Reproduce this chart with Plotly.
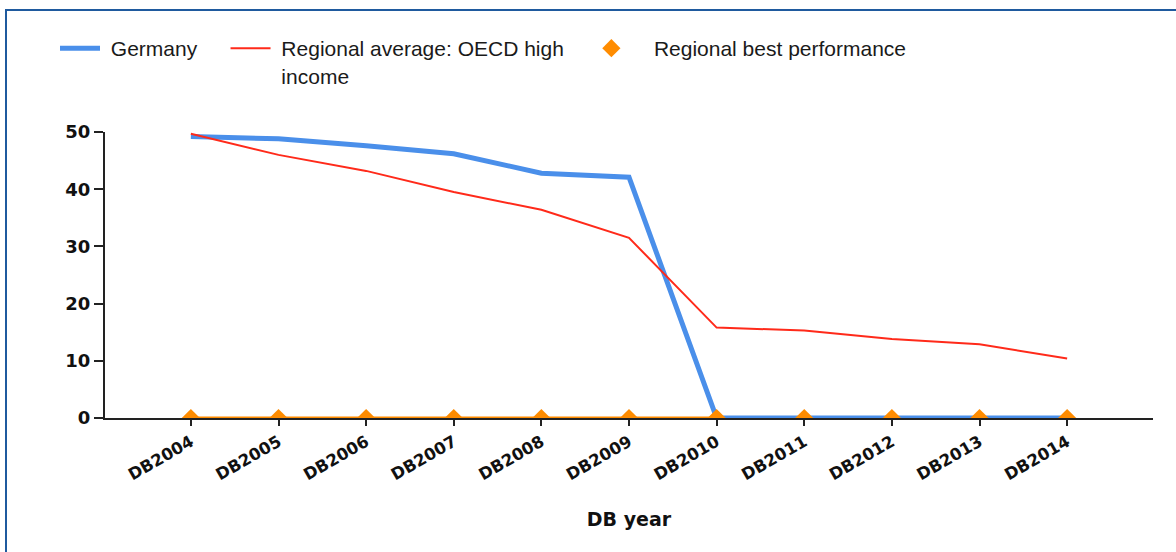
import plotly.graph_objects as go

years = ["DB2004", "DB2005", "DB2006", "DB2007", "DB2008", "DB2009",
         "DB2010", "DB2011", "DB2012", "DB2013", "DB2014"]
germany = [49.2, 48.8, 47.6, 46.2, 42.8, 42.1, 0, 0, 0, 0, 0]
oecd_avg = [49.7, 46.0, 43.2, 39.5, 36.4, 31.5, 15.8, 15.3, 13.8, 12.9, 10.4]
best = [0, 0, 0, 0, 0, 0, 0, 0, 0, 0, 0]
y_ticks = [0, 10, 20, 30, 40, 50]

NB = "\u00a0"
name_germany = NB + "Germany" + NB * 4
name_avg = NB + "Regional average: OECD high" + NB * 3 + "<br>" + NB + "income"
name_best = NB * 3 + "Regional best performance"

W, H = 1176, 552
L, R, T, B = 105, 23, 132, 134
pw, ph = W - L - R, H - T - B

def px(x):
    return (x - L) / pw

def py(y):
    return (H - B - y) / ph

fig = go.Figure()
fig.add_trace(go.Scatter(x=years, y=best, mode="lines", line=dict(color="#FF8C00", width=3),
                         showlegend=False, hoverinfo="skip"))
fig.add_trace(go.Scatter(x=years, y=germany, mode="lines", name=name_germany,
                         line=dict(color="#4A8FEA", width=5)))
fig.add_trace(go.Scatter(x=years, y=oecd_avg, mode="lines", name=name_avg,
                         line=dict(color="#FF2A1A", width=2)))
fig.add_trace(go.Scatter(x=years, y=best, mode="markers", name=name_best,
                         marker=dict(symbol="diamond", color="#FF8C00", size=14)))

fig.update_layout(
    width=W, height=H,
    margin=dict(l=L, r=R, t=T, b=B, autoexpand=False),
    paper_bgcolor="white", plot_bgcolor="white",
    font=dict(family="Liberation Sans, Arial, sans-serif", color="#111111"),
    legend=dict(orientation="h", x=px(55), y=py(28), xanchor="left", yanchor="top",
                font=dict(size=21, family="Liberation Sans, Arial, sans-serif", color="#1a1a1a"),
                itemwidth=40, traceorder="normal", valign="top"),
    xaxis=dict(type="category", range=[-0.98, 10.98], showgrid=False, zeroline=False,
               showline=True, linecolor="#222222", linewidth=2,
               ticks="outside", ticklen=6, tickwidth=2, tickcolor="#222222",
               tickangle=-30,
               tickfont=dict(family="DejaVu Sans", size=16.5, color="#111111", weight="bold"),
               title=dict(text="<b>DB year</b>", standoff=29,
                          font=dict(family="DejaVu Sans", size=19, color="#111111"))),
    yaxis=dict(range=[0, 50], tickvals=y_ticks, showgrid=False, zeroline=False,
               showline=True, linecolor="#222222", linewidth=2,
               ticks="outside", ticklen=9, tickwidth=2, tickcolor="#222222",
               tickfont=dict(family="DejaVu Sans", size=18, color="#111111", weight="bold")),
    shapes=[dict(type="rect", xref="paper", yref="paper",
                 x0=px(6), x1=px(W + 10), y0=py(H + 10), y1=py(10),
                 line=dict(color="#1F5A9E", width=2), fillcolor="rgba(0,0,0,0)", layer="below")],
)

fig.write_html("out.html", config={"displayModeBar": False},
               post_script="document.body.style.margin='0';document.body.style.overflow='hidden';")
